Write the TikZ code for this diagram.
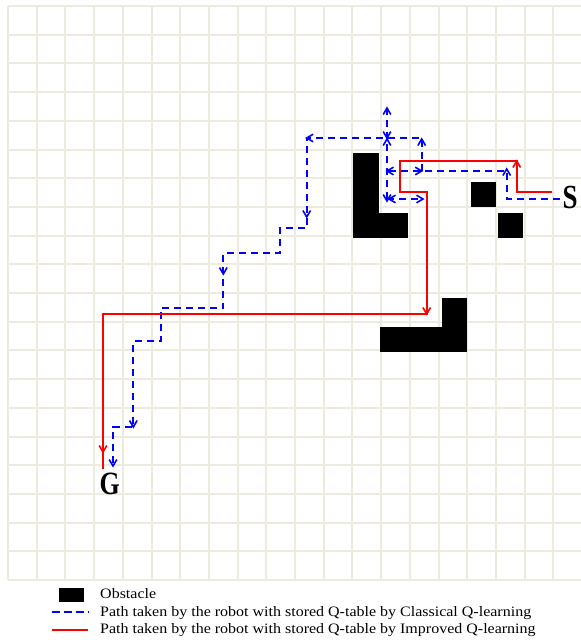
\documentclass[tikz,border=0pt]{standalone}
\usepackage{fontspec}
\setmainfont{Liberation Serif}
\usetikzlibrary{arrows.meta}
\definecolor{gridc}{RGB}{237,234,223}
\definecolor{pathred}{RGB}{255,0,0}
\definecolor{pathblue}{RGB}{0,0,255}
\begin{document}
\begin{tikzpicture}[x=1pt,y=-1pt,
  gridline/.style={draw=gridc,line width=2pt},
  obstacle/.style={fill=black,draw=none},
  redpath/.style={draw=pathred,line width=1.8pt,line join=miter},
  bluepath/.style={draw=pathblue,line width=1.8pt,dash pattern=on 7pt off 5pt},
  tipb/.pic={\draw[solid,line width=1.6pt,line cap=butt,line join=miter] (-6.5,3.8) -- (0,0) -- (-6.5,-3.8);},
  lbl/.style={inner sep=0pt,anchor=base west},
  legtext/.style={inner sep=0pt,anchor=base west,font=\fontsize{16}{16}\selectfont}]
\useasboundingbox (0,0) rectangle (581,640);
\fill[white] (0,0) rectangle (581,640);
% grid
\foreach \k in {0,...,20} \draw[gridline] ({8+28.7*\k},6) -- ({8+28.7*\k},580);
\foreach \j in {0,...,20} \draw[gridline] (8,{6+28.7*\j}) -- (582,{6+28.7*\j});
% obstacles
\fill[obstacle] (353,153) rectangle (379,238);
\fill[obstacle] (378,213) rectangle (408,238);
\fill[obstacle] (471,182) rectangle (496,207);
\fill[obstacle] (498,213) rectangle (523,238);
\fill[obstacle] (380,327) rectangle (467,352);
\fill[obstacle] (442,298) rectangle (467,352);
% classical path (blue dashed)
\coordinate (b0) at (560,199);
\coordinate (b1) at (506.7,199);
\coordinate (b2) at (506.7,171);
\coordinate (b3) at (387,171);
\coordinate (b4) at (421.7,171);
\coordinate (b5) at (421.7,138);
\coordinate (b6) at (306.7,138);
\coordinate (b7) at (306.7,228.3);
\coordinate (b8) at (280,228.3);
\coordinate (b9) at (280,253.3);
\coordinate (b10) at (223.3,253.3);
\coordinate (b11) at (223.3,308.3);
\coordinate (b12) at (161,308.3);
\coordinate (b13) at (161,341);
\coordinate (b14) at (133.3,341);
\coordinate (b15) at (133.3,427);
\coordinate (b16) at (113,427);
\coordinate (b17) at (113,466);
\coordinate (c0) at (387,108);
\coordinate (c1) at (387,138);
\coordinate (c2) at (387,201);
\coordinate (c3) at (387,199);
\coordinate (c4) at (423,199);
\draw[bluepath] (b0) -- (b1) -- (b2) -- (b3);
\draw[bluepath] (b4) -- (b5) -- (b6) -- (b7) -- (b8) -- (b9) -- (b10) -- (b11) -- (b12) -- (b13) -- (b14) -- (b15) -- (b16) -- (b17);
\draw[bluepath] (c0) -- (c2);
\draw[bluepath] (c3) -- (c4);
\pic[pathblue,rotate=90] at (506.7,169) {tipb};
\pic[pathblue,rotate=180] at (b3) {tipb};
\pic[pathblue,rotate=0] at (b4) {tipb};
\pic[pathblue,rotate=90] at (421.7,139) {tipb};
\pic[pathblue,rotate=180] at (b6) {tipb};
\pic[pathblue,rotate=90] at (c0) {tipb};
\pic[pathblue,rotate=-90] at (c1) {tipb};
\pic[pathblue,rotate=90] at (387,139) {tipb};
\pic[pathblue,rotate=-90] at (c2) {tipb};
\pic[pathblue,rotate=180] at (389,199) {tipb};
\pic[pathblue,rotate=0] at (c4) {tipb};
\pic[pathblue,rotate=-90] at (306.7,217) {tipb};
\pic[pathblue,rotate=-90] at (223.3,274) {tipb};
\pic[pathblue,rotate=-90] at (b15) {tipb};
\pic[pathblue,rotate=-90] at (b17) {tipb};
% improved path (red)
\coordinate (r0) at (552,191.7);
\coordinate (r1) at (516.7,191.7);
\coordinate (r2) at (516.7,161);
\coordinate (r3) at (400,161);
\coordinate (r4) at (400,191.7);
\coordinate (r5) at (426.7,191.7);
\coordinate (r6) at (426.7,314);
\coordinate (r7) at (103,314);
\coordinate (r8) at (103,452);
\coordinate (r9) at (103,469);
\draw[redpath] (r0) -- (r1) -- (r2) -- (r3) -- (r4) -- (r5) -- (r6) -- (r7) -- (r9);
\pic[pathred,rotate=90] at (r2) {tipb};
\pic[pathred,rotate=-90] at (r6) {tipb};
\pic[pathred,rotate=-90] at (r8) {tipb};
% start / goal
\node[lbl] (S) at (562.5,208) {\scalebox{1}[1.25]{\fontsize{27}{27}\selectfont\bfseries S}};
\node[lbl] (G) at (99.5,494) {\scalebox{1}[1.25]{\fontsize{26}{26}\selectfont\bfseries G}};
% legend
\fill[obstacle] (59,588) rectangle (84,602);
\coordinate (lb0) at (51.7,612.3);
\coordinate (lb1) at (88.3,612.3);
\coordinate (lr0) at (51.7,630);
\coordinate (lr1) at (88.3,630);
\draw[bluepath,dash pattern=on 8pt off 4pt] (lb0) -- (lb1);
\draw[redpath] (lr0) -- (lr1);
\node[legtext] (l1) at (100,598.3) {\scalebox{1}[0.9]{Obstacle}};
\node[legtext] (l2) at (100,616) {\scalebox{1}[0.9]{Path taken by the robot with stored Q-table by Classical Q-learning}};
\node[legtext] (l3) at (100,633.5) {\scalebox{1}[0.9]{Path taken by the robot with stored Q-table by Improved Q-learning}};
\end{tikzpicture}
\end{document}
